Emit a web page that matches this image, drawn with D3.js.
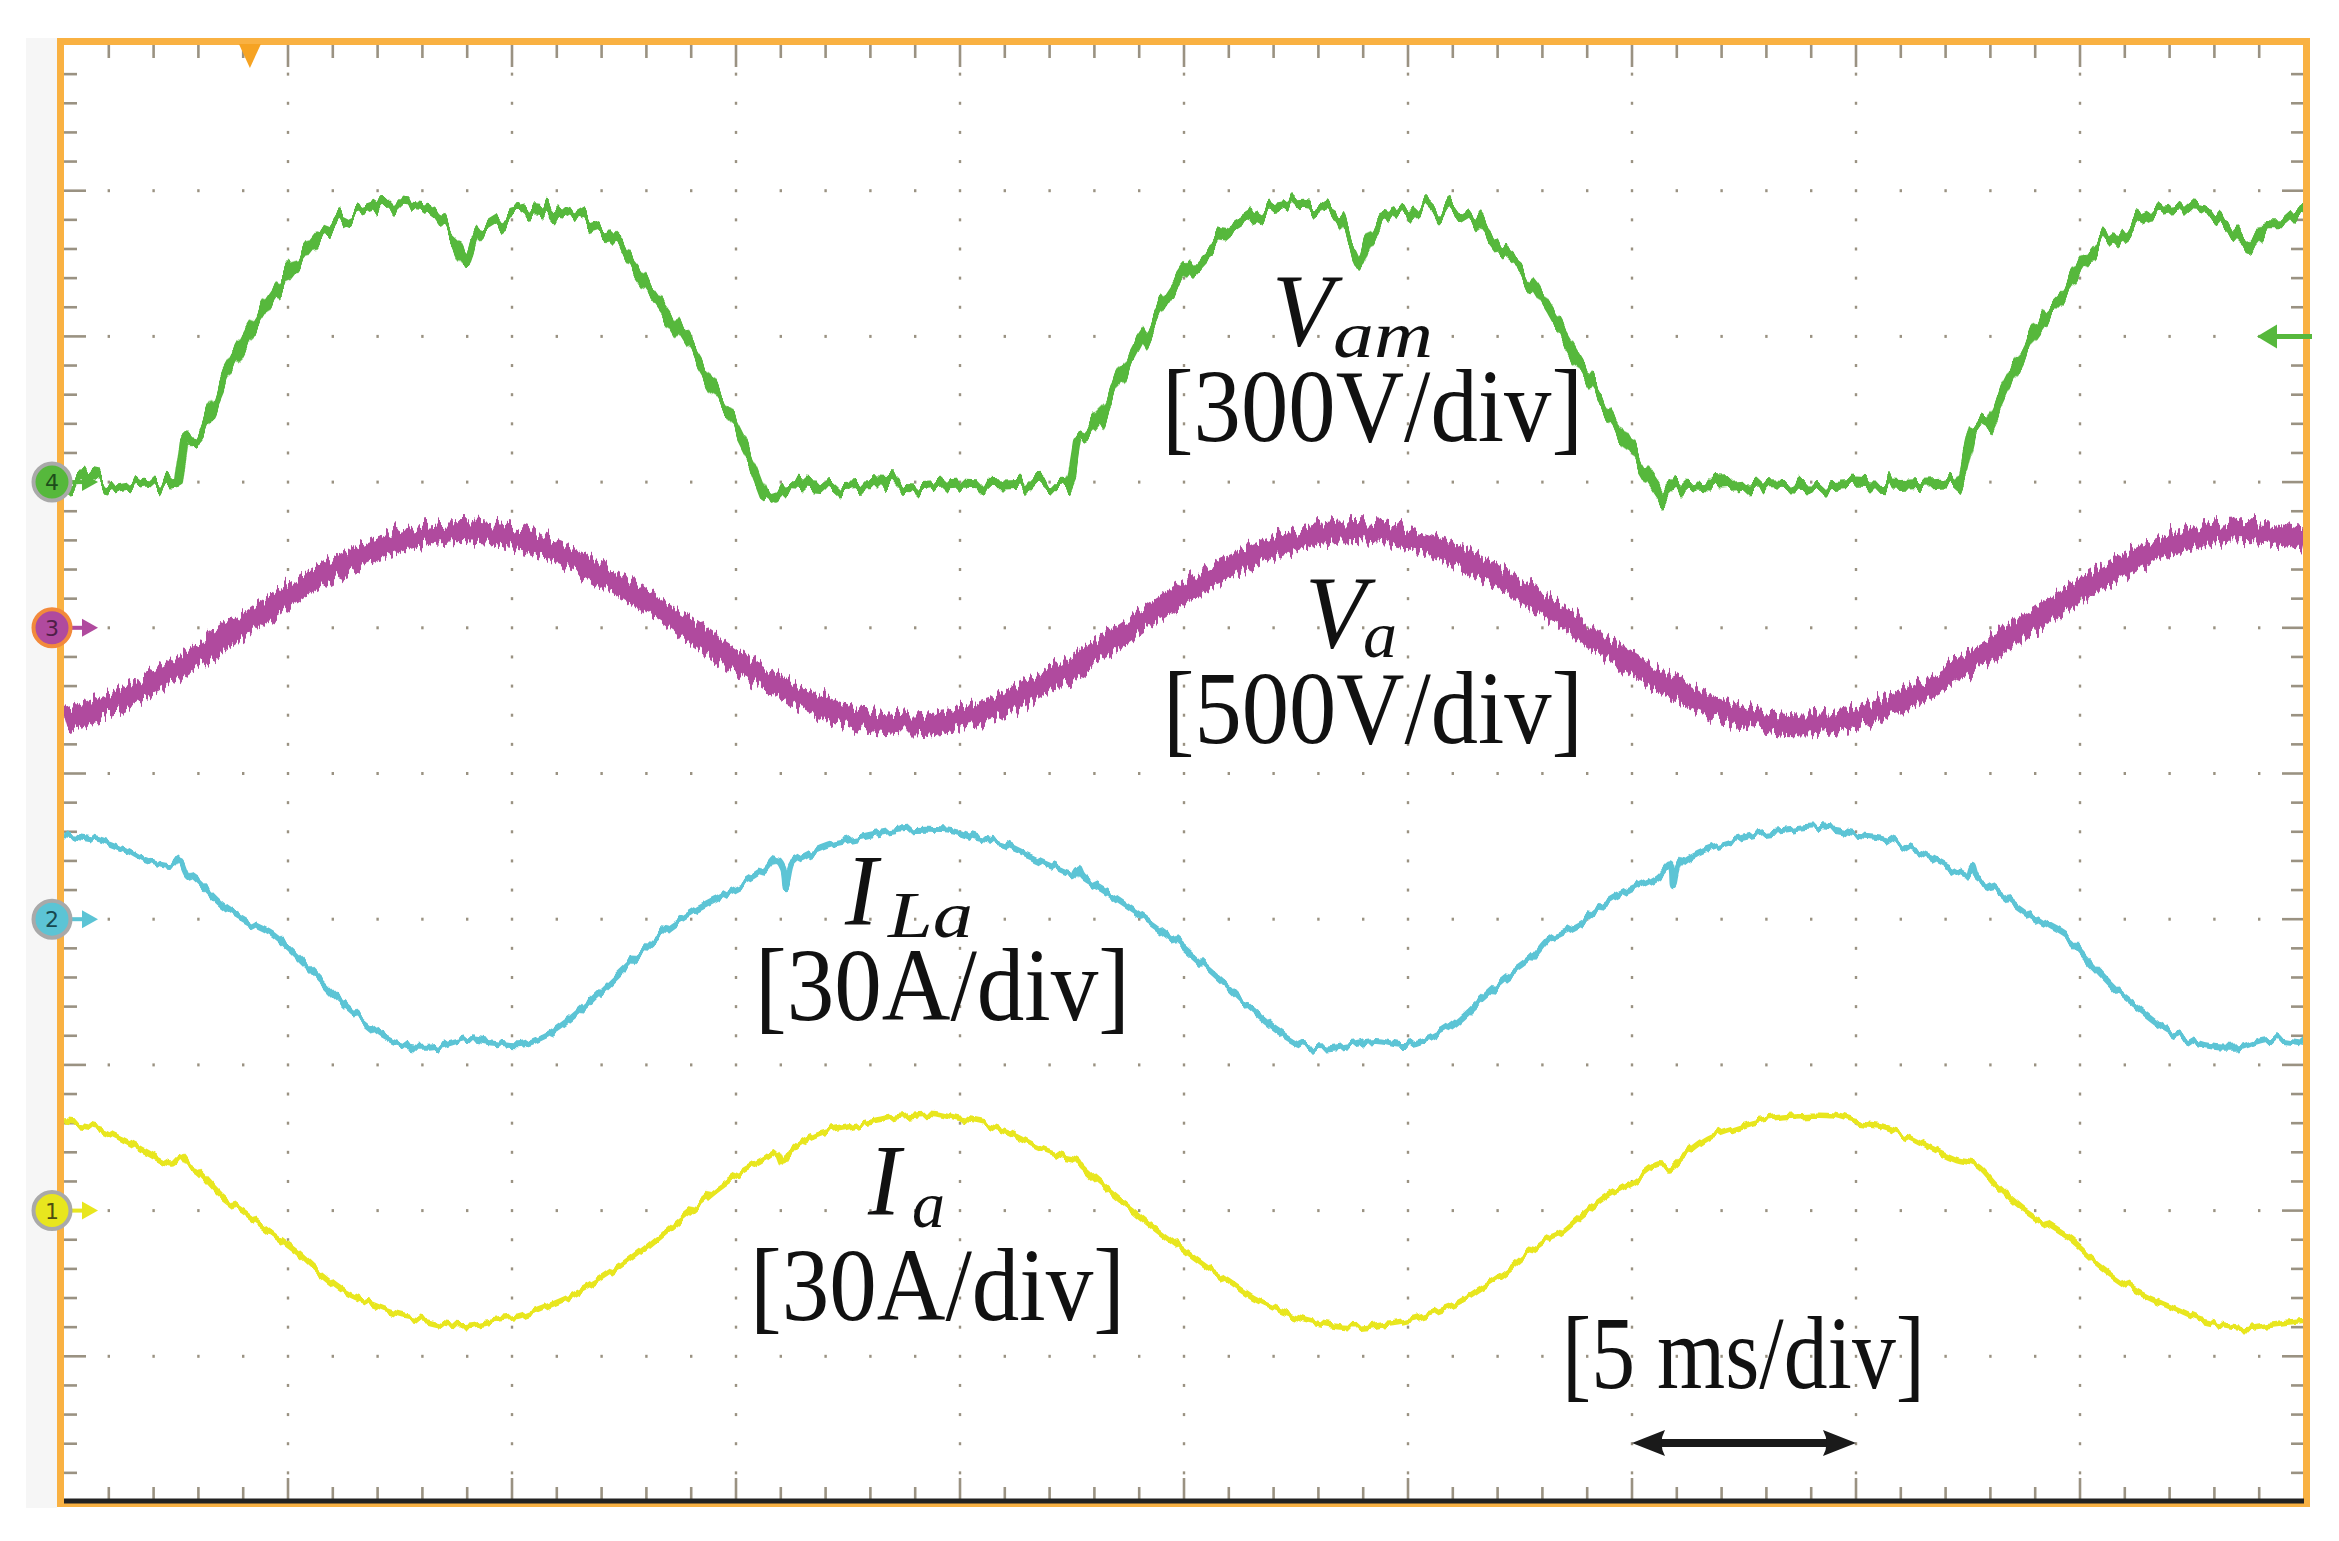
<!DOCTYPE html>
<html>
<head>
<meta charset="utf-8">
<script src="https://cdn.jsdelivr.net/npm/d3@7"></script>
<style>
html,body{margin:0;padding:0;background:#fff;}
svg{display:block;}
</style>
</head>
<body>
<svg id="scope" width="2339" height="1541"></svg>
<script>
// scope settings: 10 x 10 divisions, 5 ms/div
var timeSpan=[0,50];
var scaleBar=[35,40];          // the 5 ms/div arrow
var triggerTime=4.15;
var triggerLevel=300;          // ch4, volts

// ch4  Vam  [t ms, V]
var vam=[[0,-6],[0.6,4],[1.2,-8],[1.8,2],[2.4,-4],[2.55,0],[2.68,95],[2.85,110],[3.05,105],[3.3,150],[3.55,205],[3.85,255],
 [4.15,308],[4.55,368],[4.95,423],[5.35,470],[5.73,514],[6.1,535],[6.54,555],[7.03,571],[7.5,573],[8.03,567],[8.3,550],
 [8.52,520],[8.75,500],[8.99,452],[9.15,495],[9.33,514],[9.7,535],[10.02,555],[10.53,565],[11.22,555],[11.6,540],[12.03,514],
 [12.4,482],[12.72,444],[13.1,395],[13.52,341],[14.1,253],[14.5,190],[14.88,134],[15.37,43],[15.62,-18],[15.88,-35],[16.2,-5],
 [17,-12],[18,-5],[19,-10],[20,-4],[21,-8],[22,-4],[22.4,-2],[22.5,20],[22.62,90],[22.85,102],[23.1,130],[23.54,210],[24,290],
 [24.5,360],[25,430],[25.5,480],[26.03,522],[26.5,550],[26.86,563],[27.3,570],[27.69,572],[28.1,565],[28.5,540],[28.92,455],
 [29.1,500],[29.36,535],[29.8,555],[30.19,563],[30.86,563],[31.52,539],[32,480],[32.5,440],[32.84,400],[33.2,345],[33.51,294],
 [34.18,189],[34.6,125],[34.85,90],[35.34,12],[35.68,-35],[36,-5],[37,-12],[38,-5],[39,-10],[40,-4],[41,-9],[42,-4],[42.24,-2],
 [42.39,21],[42.61,109],[42.97,123],[43.28,185],[43.57,238],[43.95,308],[44.31,355],[44.69,390],[45.07,444],[45.42,485],
 [45.8,514],[46.18,540],[46.54,555],[46.92,561],[47.3,565],[47.66,561],[48.03,547],[48.41,514],[48.77,485],[49.15,526],
 [49.53,526],[49.89,555],[50,558]];

// ch3  Va  sampled every 1 ms
var vaTime=[0,1,2,3,4,5,6,7,8,9,10,11,12,13,14,15,16,17,18,19,20,21,22,23,24,25,26,27,28,29,30,31,32,33,34,35,36,37,38,39,40,41,42,43,44,45,46,47,48,49,50];
var vaVolt=[-312,-263,-188,-95,8,110,201,272,317,330,310,260,184,90,-13,-115,-205,-275,-318,-330,-309,-258,-180,-85,18,120,209,
 278,320,330,307,255,176,80,-23,-124,-213,-281,-321,-329,-306,-252,-172,-75,29,129,217,283,322,329,304];

// ch2  ILa  [t ms, A]
var ila=[[0,17.5],[0.74,16.4],[1.3,14.5],[1.86,11.8],[2.4,10.6],[2.58,12.5],[2.75,9.5],[2.97,8],[3.52,3],[4.08,-0.4],[4.63,-3],
 [5.02,-6.1],[5.52,-10.7],[6.08,-16],[6.63,-20.5],[7.19,-24.4],[7.74,-26.3],[8.3,-26.3],[8.97,-24.7],[9.63,-25.5],[10.19,-25.9],
 [10.74,-24],[11.3,-20.5],[11.85,-16],[12.41,-11],[12.97,-6.1],[13.52,-1.5],[14.08,1.9],[14.63,4.6],[15.19,7.2],[15.63,9.9],
 [15.91,12.6],[16.05,11],[16.12,6.8],[16.25,11.5],[16.5,12.9],[17.06,15.2],[17.6,16.4],[18.17,17.5],[18.72,18.3],[19.28,18.6],
 [19.83,18.3],[20.39,16.7],[20.94,15.6],[21.5,13.3],[22.06,11],[22.5,9.5],[22.61,10.8],[22.75,8.5],[23.17,6.1],[23.72,2.7],
 [24.28,-0.8],[24.83,-4.6],[25.39,-9.1],[25.94,-13.7],[26.5,-18.6],[27.06,-22.8],[27.61,-25.9],[28.17,-26.6],[28.72,-25.9],
 [29.28,-25.1],[29.94,-25.9],[30.5,-24.4],[31.06,-21.3],[31.61,-16.7],[32.17,-12.2],[32.72,-8.4],[33.17,-3.8],[33.37,-3],
 [33.92,-0.4],[34.48,3.8],[35.03,6.5],[35.59,9.1],[35.85,11.5],[35.92,6.8],[36.05,11],[36.48,13.7],[37.03,15.6],[37.81,17.5],
 [38.48,18.3],[39.03,18.9],[39.59,18.3],[40.03,17.4],[40.59,16.7],[41.14,14.8],[41.7,12.6],[42.25,9.9],[42.5,9],[42.59,11],
 [42.7,8.5],[43.03,6.8],[43.59,2.7],[44.14,-0.8],[44.7,-3.8],[45.25,-9.1],[45.81,-14.5],[46.37,-18.6],[46.92,-22.4],
 [47.48,-25.1],[48.03,-26.3],[48.59,-26.3],[49.14,-24.7],[50,-25.5]];

// ch1  Ia  [t ms, A]
var ia=[[0,18.1],[0.74,17],[1.3,14.7],[1.86,12],[2.4,9.8],[2.6,11.2],[2.8,9],[2.97,8.2],[3.52,2.9],[4.08,-0.9],[4.63,-4.7],
 [5.19,-8.5],[5.74,-13.1],[6.3,-16.9],[6.85,-19.2],[7.41,-21.1],[7.96,-22.2],[8.52,-23.4],[8.97,-23.7],[9.63,-22.6],[10.19,-21.8],
 [10.74,-19.9],[11.3,-17.7],[11.85,-15],[12.41,-11.6],[12.97,-7.8],[13.52,-3.6],[14.08,0.6],[14.63,4.8],[15.19,8.2],[15.63,10.5],
 [15.91,12],[16.05,9.8],[16.28,12.8],[16.83,15.8],[17.6,17.4],[18.17,18.5],[18.72,19.5],[19.39,20],[19.94,18.9],[20.61,17.7],
 [21.17,15.8],[21.72,13.2],[22.28,11.3],[22.6,10.5],[22.72,9],[23.28,4.4],[23.83,0.2],[24.39,-4],[24.94,-7.8],[25.5,-11.6],
 [26.06,-15],[26.61,-18.4],[27.17,-20.7],[27.72,-22.6],[28.28,-23.7],[28.83,-24.1],[29.39,-23.4],[29.94,-22.6],[30.5,-21.1],
 [31.06,-19.2],[31.61,-16.1],[32.17,-12.7],[32.72,-8.5],[33.17,-5.5],[33.37,-4.7],[33.92,-0.5],[34.48,3.3],[35.03,5.9],
 [35.59,9.4],[35.85,9],[36.14,11.3],[36.7,15.1],[37.26,17],[37.81,18.5],[38.37,19.3],[38.92,19.6],[39.48,19.5],[40.03,18.1],
 [40.59,17.4],[41.14,15.4],[41.7,12.8],[42.25,10.5],[42.7,9.4],[43.14,5.2],[43.7,0.6],[44.25,-2.8],[44.81,-6.2],[45.37,-10.8],
 [45.92,-14.6],[46.48,-17.7],[47.03,-19.9],[47.59,-22.2],[48.14,-23.4],[48.7,-24.1],[49.26,-23.4],[50,-22.6]];

var chNumbers=[4,3,2,1];
var chGround=[3,4,6,8];          // division (from top) of each channel's zero
var chPerDiv=[300,500,30,30];

var svg=d3.select("#scope");
var pLeft=64,pRight=2304,pTop=45,pBottom=1502;

var x=d3.scaleLinear().domain(timeSpan).range([pLeft,pRight]);
var divX=d3.scaleLinear().domain([0,10]).range([pLeft,pRight]);
var divY=d3.scaleLinear().domain([0,10]).range([pTop,pBottom]);
function chScale(i){
    return d3.scaleLinear().domain([chGround[i]*chPerDiv[i],(chGround[i]-10)*chPerDiv[i]]).range([pTop,pBottom]);
}
var y4=chScale(0),y3=chScale(1),y2=chScale(2),y1=chScale(3);

var colors={4:"#56b83c",3:"#b04a9e",2:"#5cc4d5",1:"#e8e61e"};
var gridCol="#9a9282";

// noise filters (scope trace fuzz)
var defs=svg.append("defs");
function noise(id,fx,fy,amount){
    var f=defs.append("filter").attr("id",id)
        .attr("x","-2%").attr("y","-20%").attr("width","104%").attr("height","140%")
        .attr("color-interpolation-filters","sRGB");
    f.append("feTurbulence").attr("type","fractalNoise")
        .attr("baseFrequency",fx+" "+fy).attr("numOctaves",2).attr("seed",3).attr("result","t");
    f.append("feColorMatrix").attr("in","t").attr("type","matrix")
        .attr("values","0 0 0 0 0.5  0 1 0 0 0  0 0 1 0 0  0 0 0 0 1").attr("result","m");
    f.append("feDisplacementMap").attr("in","SourceGraphic").attr("in2","m")
        .attr("scale",amount).attr("xChannelSelector","R").attr("yChannelSelector","G");
}
noise("nGreen",0.09,0.01,38);
noise("nMag",0.3,0.02,26);
noise("nCyan",0.12,0.02,14);
noise("nYel",0.12,0.02,12);

defs.append("clipPath").attr("id","plotClip").append("rect")
    .attr("x",pLeft).attr("y",pTop).attr("width",pRight-pLeft).attr("height",pBottom-pTop);

// faint shade left of the frame
svg.append("rect").attr("x",26).attr("y",38).attr("width",31).attr("height",1470).attr("fill","#f6f6f6");

// grid dots
var dots=[];
for(var k=1;k<10;k++){
    for(var m=1;m<50;m++){
        dots.push([divX(k),divY(m/5)]);
        if(m%5!=0) dots.push([divX(m/5),divY(k)]);
    }
}
svg.append("g").selectAll("rect").data(dots).enter().append("rect")
    .attr("x",function(d){return d[0]-1.2;}).attr("y",function(d){return d[1]-1.5;})
    .attr("width",2.4).attr("height",3).attr("fill",gridCol);

// edge ticks
var ticks=svg.append("g").attr("stroke",gridCol).attr("stroke-width",2.6);
for(var n=1;n<50;n++){
    var len=(n%5==0)?22:13;
    ticks.append("line").attr("x1",divX(n/5)).attr("x2",divX(n/5)).attr("y1",pTop).attr("y2",pTop+len);
    ticks.append("line").attr("x1",divX(n/5)).attr("x2",divX(n/5)).attr("y1",pBottom-2).attr("y2",pBottom-2-len);
    ticks.append("line").attr("y1",divY(n/5)).attr("y2",divY(n/5)).attr("x1",pLeft).attr("x2",pLeft+len);
    ticks.append("line").attr("y1",divY(n/5)).attr("y2",divY(n/5)).attr("x1",pRight).attr("x2",pRight-len);
}

// traces
var plot=svg.append("g").attr("clip-path","url(#plotClip)");
var lineIa=d3.line().x(function(d){return x(d[0]);}).y(function(d){return y1(d[1]);}).curve(d3.curveCatmullRom);
var lineIla=d3.line().x(function(d){return x(d[0]);}).y(function(d){return y2(d[1]);}).curve(d3.curveCatmullRom);
var lineVa=d3.line().x(function(d,i){return x(vaTime[i]);}).y(function(d){return y3(d);}).curve(d3.curveCatmullRom);
var lineVam=d3.line().x(function(d){return x(d[0]);}).y(function(d){return y4(d[1]);}).curve(d3.curveLinear);

plot.append("path").attr("d",lineIa(ia)).attr("fill","none").attr("stroke",colors[1])
    .attr("stroke-width",5.5).attr("filter","url(#nYel)");
plot.append("path").attr("d",lineIla(ila)).attr("fill","none").attr("stroke",colors[2])
    .attr("stroke-width",6).attr("filter","url(#nCyan)");
plot.append("path").attr("d",lineVa(vaVolt)).attr("fill","none").attr("stroke",colors[3])
    .attr("stroke-width",21).attr("filter","url(#nMag)");
plot.append("path").attr("d",lineVam(vam)).attr("fill","none").attr("stroke",colors[4])
    .attr("stroke-width",9).attr("stroke-linejoin","round").attr("filter","url(#nGreen)");

// frame
svg.append("rect").attr("x",60.5).attr("y",41.5).attr("width",2246).attr("height",1462)
    .attr("fill","none").attr("stroke","#f9b142").attr("stroke-width",7);
svg.append("line").attr("x1",pLeft).attr("x2",pRight).attr("y1",pBottom-1).attr("y2",pBottom-1)
    .attr("stroke","#222").attr("stroke-width",5);

// trigger position and level markers
var tx=x(triggerTime);
svg.append("path").attr("d","M"+(tx-11)+","+(pTop-1)+"L"+(tx+11)+","+(pTop-1)+"L"+tx+","+(pTop+23)+"Z")
    .attr("fill","#f6a323");
var ty=y4(triggerLevel);
svg.append("line").attr("x1",pRight-30).attr("x2",pRight+8).attr("y1",ty).attr("y2",ty)
    .attr("stroke",colors[4]).attr("stroke-width",5);
svg.append("path").attr("d","M"+(pRight-47)+","+ty+"L"+(pRight-27)+","+(ty-12)+"L"+(pRight-27)+","+(ty+12)+"Z")
    .attr("fill",colors[4]);

// channel ground markers
var textCol={4:"#1d4d1a",3:"#4f1f47",2:"#17484f",1:"#4d4c10"};
chNumbers.forEach(function(c,i){
    var gy=divY(chGround[i]);
    var g=svg.append("g");
    g.append("line").attr("x1",66).attr("x2",84).attr("y1",gy).attr("y2",gy)
        .attr("stroke",colors[c]).attr("stroke-width",4);
    g.append("path").attr("d","M82,"+(gy-9)+"L98,"+gy+"L82,"+(gy+9)+"Z").attr("fill",colors[c]);
    g.append("circle").attr("cx",52).attr("cy",gy).attr("r",18.5)
        .attr("fill",colors[c]).attr("stroke",c==3?"#f28a3c":"#a9a9a9").attr("stroke-width",4);
    g.append("text").attr("x",52).attr("y",gy+8).attr("text-anchor","middle")
        .attr("font-family","DejaVu Sans, sans-serif").attr("font-size",22)
        .attr("fill",textCol[c]).text(c);
});

// labels
var serif="'Liberation Serif','Times New Roman',serif";
function label(txt,px,py,size,width,italic,stretch){
    var t=svg.append("text").attr("x",0).attr("y",0).attr("font-family",serif)
        .attr("transform","translate("+px+","+py+") scale(1,"+(stretch||1)+")")
        .attr("font-size",size).attr("fill","#111").text(txt);
    if(width) t.attr("textLength",width).attr("lengthAdjust","spacingAndGlyphs");
    if(italic) t.attr("font-style","italic");
    return t;
}
label("V",1272,345,100,null,true,1.04);
label("am",1333,357,66,100,true);
label("[300V/div]",1162,441,95,421,false,1.1);
label("V",1305,647,100,null,true,1.04);
label("a",1363,657,66,34,true);
label("[500V/div]",1163,743,95,420,false,1.1);
label("I",845,925,98,null,true,1.04);
label("La",888,937,66,85,true);
label("[30A/div]",755,1020,95,375,false,1.1);
label("I",868,1215,98,null,true,1.04);
label("a",912,1227,66,33,true);
label("[30A/div]",750,1320,95,375,false,1.1);
label("[5 ms/div]",1562,1388,95,363,false,1.1);

// 5 ms/div arrow
var ax0=x(scaleBar[0]),ax1=x(scaleBar[1]),ay=1443;
svg.append("line").attr("x1",ax0+20).attr("x2",ax1-20).attr("y1",ay).attr("y2",ay)
    .attr("stroke","#1a1a1a").attr("stroke-width",8);
svg.append("path").attr("d","M"+ax0+","+ay+"L"+(ax0+33)+","+(ay-13)+"Q"+(ax0+26)+","+ay+" "+(ax0+33)+","+(ay+13)+"Z")
    .attr("fill","#1a1a1a");
svg.append("path").attr("d","M"+ax1+","+ay+"L"+(ax1-33)+","+(ay-13)+"Q"+(ax1-26)+","+ay+" "+(ax1-33)+","+(ay+13)+"Z")
    .attr("fill","#1a1a1a");
</script>
</body>
</html>
